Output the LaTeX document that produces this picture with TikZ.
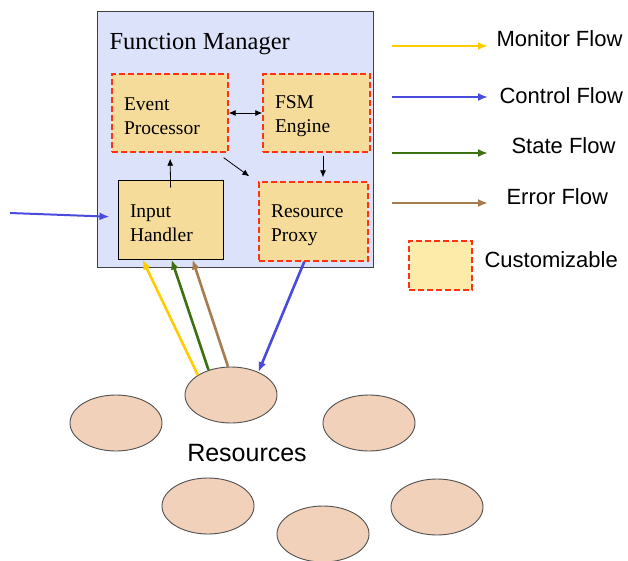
\documentclass[tikz,border=0pt]{standalone}
\usepackage{fontspec}
\setmainfont{Liberation Serif}
\setsansfont{Liberation Sans}
\usetikzlibrary{arrows.meta,shapes.geometric,calc}
\definecolor{mgrbg}{HTML}{DDE2FB}
\definecolor{mgrline}{HTML}{404040}
\definecolor{boxfill}{HTML}{F5DC9A}
\definecolor{legfill}{HTML}{FDEBA9}
\definecolor{custred}{HTML}{FF3311}
\definecolor{resfill}{HTML}{F1D1B9}
\definecolor{resline}{HTML}{505050}
\definecolor{monitorc}{HTML}{FFCC00}
\definecolor{ctrlc}{HTML}{4A4ADC}
\definecolor{statec}{HTML}{3D7010}
\definecolor{errorc}{HTML}{A67C4E}

\begin{document}
\begin{tikzpicture}[x=1pt,y=-1pt,
	flow/.style={line width=2.6pt,-{Latex[length=10pt,width=8pt]}},
	legflow/.style={line width=2pt,-{Latex[length=10pt,width=8pt]}},
	inner/.style={line width=0.8pt,-{Latex[length=7pt,width=6pt]}},
	custom/.style={draw=custred,line width=1.4pt,dash pattern=on 6pt off 3pt,fill=boxfill},
	part/.style={rectangle,inner xsep=12pt,align=left,font=\fontsize{19.5}{24}\selectfont,
		execute at begin node={\rule{0pt}{20pt}}},
	resource/.style={ellipse,draw=resline,line width=0.9pt,fill=resfill,minimum width=92pt,minimum height=56pt,inner sep=0pt},
	legtext/.style={anchor=west,font=\sffamily\fontsize{22}{26}\selectfont}]
	\useasboundingbox (0,0) rectangle (628,561);

	% function manager
	\node[draw=mgrline,fill=mgrbg,line width=1pt,minimum width=276pt,minimum height=255pt,inner sep=0pt] (fm) at (235,139.5) {};
	\node[anchor=west,font=\fontsize{24.5}{28}\selectfont] (fmtitle) at (106,44) {Function Manager};

	\node[part,custom,text width=92pt,minimum height=78pt] (ep) at (170,113) {Event\\Processor};
	\node[part,custom,text width=83pt,minimum height=78pt] (fsm) at (316.5,113) {FSM\\Engine};
	\node[part,draw=black,fill=boxfill,line width=1pt,text width=81pt,minimum height=78pt] (ih) at (170.5,220) {Input\\Handler};
	\node[part,custom,text width=85pt,minimum height=79pt] (rp) at (313.5,221.5) {Resource\\Proxy};

	\draw[inner,{Latex[length=7pt,width=6pt]}-{Latex[length=7pt,width=6pt]}] (ep) -- (fsm);
	\draw[inner,shorten <=-7pt,shorten >=6pt] (ih.north) -- (ep.south);
	\draw[inner] ($(ep.south east)+(-5,5)$) -- ($(rp.north west)+(-9,-5)$);
	\draw[inner,shorten <=3pt,shorten >=4pt] ($(fsm.south)+(6.5,0)$) -- ($(rp.north)+(9.5,0)$);

	% resources
	\node[resource] (r1) at (231,395) {};
	\node[resource] (r2) at (116,423) {};
	\node[resource] (r3) at (369,423) {};
	\node[resource] (r4) at (208,506) {};
	\node[resource] (r5) at (323,534) {};
	\node[resource] (r6) at (437,507) {};
	\node[font=\sffamily\fontsize{25}{30}\selectfont] (restext) at (247,453) {Resources};

	\coordinate (ctrlin) at (10,213);
	\draw[legflow,ctrlc,shorten >=8pt] (ctrlin) -- ($(ih.west)+(0,-3)$);
	\draw[flow,monitorc] (r1.149) -- ($(ih.south west)+(25,0)$);
	\draw[flow,statec] (r1.132) -- ($(ih.south west)+(54,0)$);
	\draw[flow,errorc] (r1.96) -- ($(ih.south west)+(75,0)$);
	\draw[flow,ctrlc] ($(rp.south west)+(46,0)$) -- (r1.40);

	% legend
	\foreach \ya/\ty/\tx/\c/\lbl in {46/39/493/monitorc/Monitor Flow,97/96/496/ctrlc/Control Flow,153/146/508/statec/State Flow,203/197/503/errorc/Error Flow}{
		\coordinate (\c-s) at (392,\ya);
		\coordinate (\c-e) at (488,\ya);
		\draw[legflow,\c] (\c-s) -- (\c-e);
		\node[legtext] (\c-lbl) at (\tx,\ty) {\lbl};
	}
	\node[custom,fill=legfill,minimum width=63pt,minimum height=49pt,inner sep=0pt] (legbox) at (440.5,265.5) {};
	\node[legtext] (legboxtext) at (481,260) {Customizable};
\end{tikzpicture}
\end{document}
